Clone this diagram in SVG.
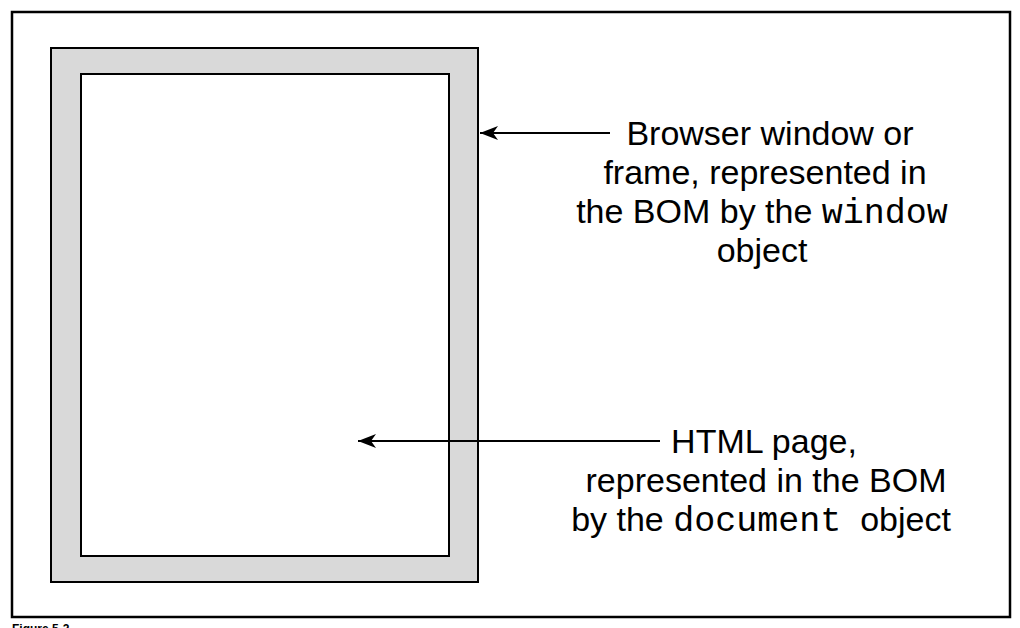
<svg xmlns="http://www.w3.org/2000/svg" width="1020" height="628" viewBox="0 0 1020 628">
<style>
.t{font-family:"Liberation Sans",Arial,sans-serif;font-size:34px;fill:#000;text-anchor:middle}
.m{font-family:"Liberation Mono","Courier New",monospace;font-size:35px}
.ln{stroke:#000;stroke-width:2;fill:none}
</style>
<defs>
<marker id="ah" markerUnits="userSpaceOnUse" markerWidth="22" markerHeight="18" refX="21" refY="8" orient="auto" viewBox="0 0 22 18">
<path d="M21,8 L3,1 L8,8 L3,15 Z" fill="#000"/>
</marker>
</defs>
<rect x="12" y="12" width="998" height="605" fill="#fff" stroke="#000" stroke-width="2.5"/>
<g id="window">
<rect x="51" y="48" width="427" height="534" fill="#d9d9d9" stroke="#000" stroke-width="2"/>
</g>
<g id="document">
<rect x="81" y="74" width="368" height="482" fill="#fff" stroke="#000" stroke-width="2"/>
</g>
<g id="connectors">
<line class="ln" x1="610" y1="133" x2="480" y2="133" marker-end="url(#ah)"/>
<line class="ln" x1="660" y1="441" x2="358" y2="441" marker-end="url(#ah)"/>
</g>
<g id="label-window">
<text class="t" x="770" y="145">Browser window or</text>
<text class="t" x="765" y="184">frame, represented in</text>
<text class="t" x="762" y="223">the BOM by the <tspan class="m">window</tspan></text>
<text class="t" x="762" y="262">object</text>
</g>
<g id="label-document">
<text class="t" x="764" y="453">HTML page,</text>
<text class="t" x="766" y="492">represented in the BOM</text>
<text class="t" x="761" y="531" xml:space="preserve">by the <tspan class="m">document</tspan>  object</text>
</g>
<text x="12" y="633" style="font-family:'Liberation Sans',Arial,sans-serif;font-size:12px;font-weight:bold">Figure 5-2</text>
</svg>
